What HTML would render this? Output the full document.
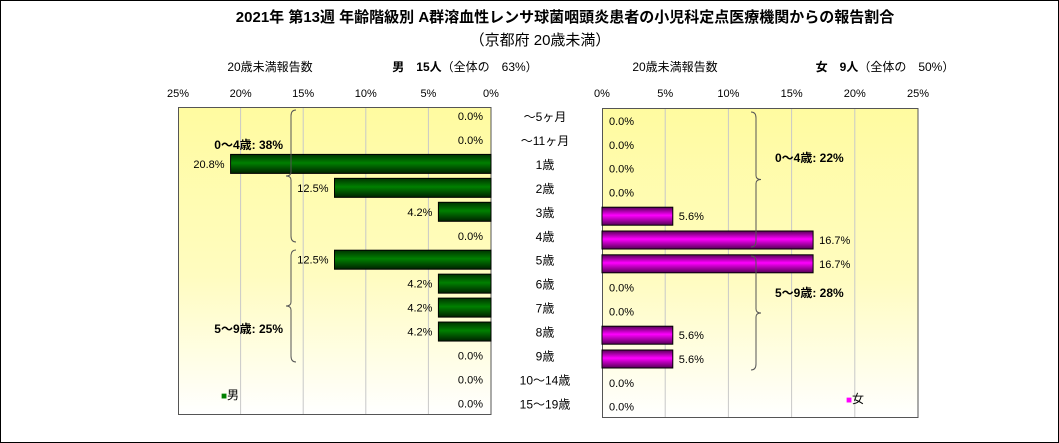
<!DOCTYPE html>
<html><head><meta charset="utf-8"><style>
body{margin:0;background:#fff;}
svg{display:block;font-family:"Liberation Sans","Noto Sans CJK JP",sans-serif;}
</style></head><body>
<svg id="c" width="1059" height="443" viewBox="0 0 1059 443">
<defs>
<linearGradient id="bg" x1="0" y1="0" x2="0" y2="1"><stop offset="0" stop-color="#fffba0"/><stop offset="0.55" stop-color="#fffcc0"/><stop offset="1" stop-color="#ffffff"/></linearGradient>
<linearGradient id="gG" x1="0" y1="0" x2="0" y2="1"><stop offset="0" stop-color="#003300"/><stop offset="0.45" stop-color="#008000"/><stop offset="1" stop-color="#002200"/></linearGradient>
<linearGradient id="gM" x1="0" y1="0" x2="0" y2="1"><stop offset="0" stop-color="#550055"/><stop offset="0.45" stop-color="#ff00ff"/><stop offset="1" stop-color="#550055"/></linearGradient>
</defs>
<rect x="0.5" y="0.5" width="1058" height="442" fill="#fff" stroke="#000"/>
<text x="565" y="22" font-size="15" font-weight="bold" text-anchor="middle">2021年 第13週 年齢階級別 A群溶血性レンサ球菌咽頭炎患者の小児科定点医療機関からの報告割合</text>
<text x="540" y="45" font-size="15" text-anchor="middle">（京都府 20歳未満）</text>
<text x="270" y="71" font-size="12" text-anchor="middle">20歳未満報告数</text>
<text x="465" y="71" font-size="12" text-anchor="middle"><tspan font-weight="bold">男　15人</tspan>（全体の　63%）</text>
<text x="675" y="71" font-size="12" text-anchor="middle">20歳未満報告数</text>
<text x="885" y="71" font-size="12" text-anchor="middle"><tspan font-weight="bold">女　9人</tspan>（全体の　50%）</text>
<g id="L"></g><g id="R"></g><g id="cats"></g>
<text x="221" y="399" font-size="12"><tspan fill="#008000" font-size="10">■</tspan>男</text>
<text x="846" y="403" font-size="12"><tspan fill="#ff00ff" font-size="10">■</tspan>女</text>
</svg>
<script>
const categories=["～5ヶ月","～11ヶ月","1歳","2歳","3歳","4歳","5歳","6歳","7歳","8歳","9歳","10～14歳","15～19歳"];
const maleValues=[0,0,20.8,12.5,4.2,0,12.5,4.2,4.2,4.2,0,0,0];
const femaleValues=[0,0,0,0,5.6,16.7,16.7,0,0,5.6,5.6,0,0];
const tickValues=[0,5,10,15,20,25];
const NS="http://www.w3.org/2000/svg";
function mk(p,t,a,txt){const e=document.createElementNS(NS,t);for(const k in a)e.setAttribute(k,a[k]);if(txt!==undefined)e.textContent=txt;p.appendChild(e);return e;}
const L=document.getElementById('L'),R=document.getElementById('R'),C=document.getElementById('cats');
const xL=v=>491-v*12.52, xR=v=>602+v*12.64;
const yL=i=>116+i*23.95, yR=i=>121+i*23.8;
// panels
let e=mk(L,'rect',{x:178.5,y:107.5,width:312.5,height:307,fill:'url(#bg)',stroke:'#555'});

e=mk(R,'rect',{x:602.5,y:108.5,width:315.5,height:309,fill:'url(#bg)',stroke:'#555'});

tickValues.forEach(v=>{
 if(v>0&&v<25){
  e=mk(L,'line',{x1:xL(v),x2:xL(v),y1:108,y2:414,stroke:'#c8c8c8'});
  
  e=mk(R,'line',{x1:xR(v),x2:xR(v),y1:109,y2:417,stroke:'#c8c8c8'});
  
 }
 e=mk(L,'text',{x:xL(v),y:97,'font-size':11,'text-anchor':'middle'},v+'%');
 
 e=mk(R,'text',{x:xR(v),y:97,'font-size':11,'text-anchor':'middle'},v+'%');
 
});
categories.forEach((c,i)=>{
 e=mk(C,'text',{x:545,y:yL(i)+5,'font-size':12,'text-anchor':'middle'},c);
 
 const m=maleValues[i];
 if(m>0){
  e=mk(L,'rect',{x:xL(m),y:yL(i)-9.5,width:491-xL(m),height:19,fill:'url(#gG)',stroke:'#000'});
  
 }
 e=mk(L,'text',{x:m>0?xL(m)-6:483,y:yL(i)+4,'font-size':11,'text-anchor':'end'},m.toFixed(1)+'%');
 
 const f=femaleValues[i];
 if(f>0){
  e=mk(R,'rect',{x:602,y:yR(i)-9,width:xR(f)-602,height:18,fill:'url(#gM)',stroke:'#000'});
  
 }
 e=mk(R,'text',{x:f>0?xR(f)+6:609,y:yR(i)+4,'font-size':11},f.toFixed(1)+'%');
 
});
function brace(p,x,y1,y2,dir,name){
 const m=(y1+y2)/2,d=dir*5;
 e=mk(p,'path',{d:`M${x+d},${y1} Q${x},${y1} ${x},${y1+6} L${x},${m-4} Q${x},${m} ${x-d},${m} Q${x},${m} ${x},${m+4} L${x},${y2-6} Q${x},${y2} ${x+d},${y2}`,fill:'none',stroke:'#555'});
 
}
brace(L,291,110,242,1,'male-brace-0-4');
brace(L,291,250,362,1,'male-brace-5-9');
brace(R,756,112,247,-1,'female-brace-0-4');
brace(R,756,256,370,-1,'female-brace-5-9');
[[L,283,149,'end','0～4歳: 38%','male-group-0-4'],[L,283,333,'end','5～9歳: 25%','male-group-5-9'],
 [R,775,162,'start','0～4歳: 22%','female-group-0-4'],[R,775,297,'start','5～9歳: 28%','female-group-5-9']].forEach(a=>{
 e=mk(a[0],'text',{x:a[1],y:a[2],'font-size':12,'font-weight':'bold','text-anchor':a[3]},a[4]);
 
});
</script>
</body></html>
